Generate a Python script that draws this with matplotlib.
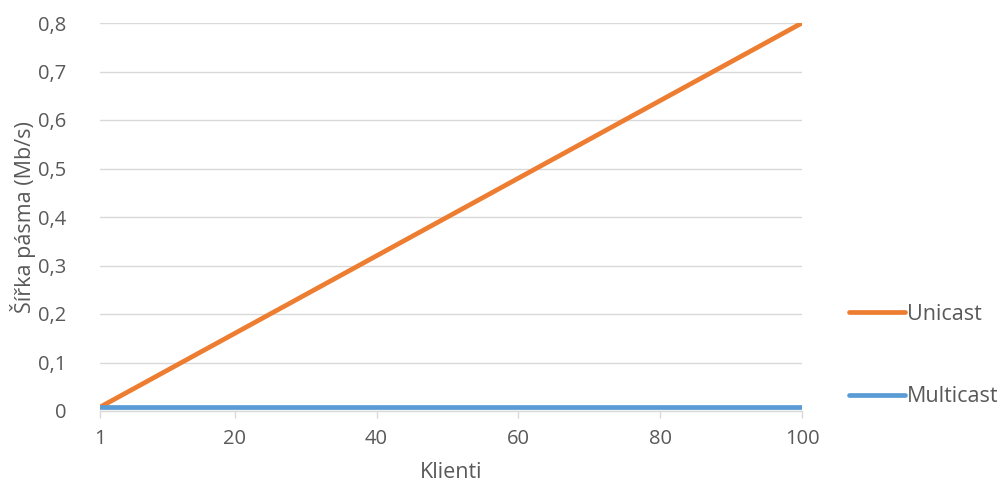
import matplotlib
matplotlib.use("Agg")
import matplotlib.pyplot as plt
from matplotlib.ticker import FuncFormatter

clients = [1, 20, 40, 60, 80, 100]
unicast = [0.008, 0.16, 0.32, 0.48, 0.64, 0.80]
multicast = [0.008, 0.008, 0.008, 0.008, 0.008, 0.008]
x_ticks = [1, 20, 40, 60, 80, 100]
y_ticks = [0, 0.1, 0.2, 0.3, 0.4, 0.5, 0.6, 0.7, 0.8]

plt.rcParams['font.family'] = ['Open Sans', 'DejaVu Sans']
W, H = 1002, 484
fig = plt.figure(figsize=(W/100, H/100), dpi=100)
ax = fig.add_axes([100/W, 73/H, 702/W, 388/H])

text_c = '#595959'
grid_c = '#D9D9D9'

l1, = ax.plot(clients, unicast, color='#ED7D31', lw=3.4, solid_capstyle='round', label='Unicast', zorder=3)
l2, = ax.plot(clients, multicast, color='#5B9BD5', lw=3.4, solid_capstyle='round', label='Multicast', zorder=3)

ax.set_xlim(1, 100)
ax.set_ylim(0, 0.8)
ax.set_xticks(x_ticks)
ax.set_yticks(y_ticks)
ax.yaxis.set_major_formatter(FuncFormatter(lambda v, p: ('%g' % round(v, 1)).replace('.', ',')))
ax.grid(axis='y', color=grid_c, lw=1)
ax.set_axisbelow(True)
for s in ['top', 'right', 'left']:
    ax.spines[s].set_visible(False)
ax.spines['bottom'].set_color(grid_c)
ax.spines['bottom'].set_linewidth(1)
ax.tick_params(axis='x', colors=grid_c, length=5, width=1, direction='out', labelcolor=text_c, labelsize=14.5, pad=8)
ax.tick_params(axis='y', length=0, labelcolor=text_c, labelsize=14.5, pad=24)

ax.set_xlabel('Klienti', color=text_c, fontsize=15.5, labelpad=9)
ax.set_ylabel('Šířka pásma (Mb/s)', color=text_c, fontsize=15.5, labelpad=2)

fig.legend(handles=[l1, l2], loc='upper left', bbox_to_anchor=(849/W, 1 - 304/H), frameon=False,
           fontsize=15.5, labelcolor=text_c, handlelength=2.6, handletextpad=0.1, labelspacing=2.85,
           borderpad=0, borderaxespad=0)

fig.savefig('out.png', dpi=100)
